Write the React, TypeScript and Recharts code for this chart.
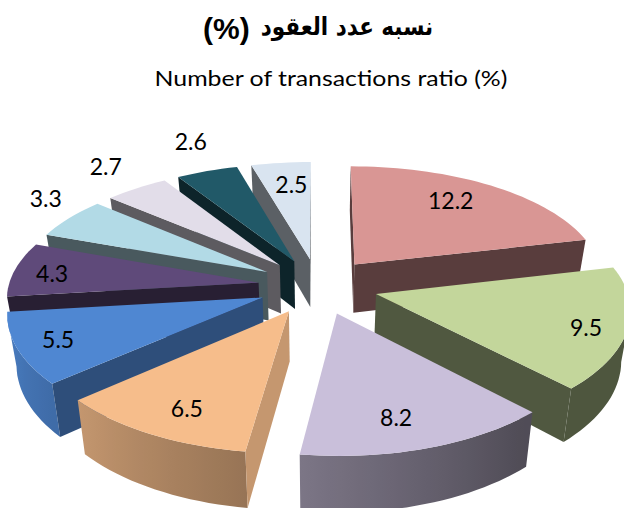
// TransactionsPie.tsx
import React from "react";
import { PieChart, Pie } from "recharts";

const categories = ["A", "B", "C", "D", "E", "F", "G", "H", "I", "J"];
const values = [12.2, 9.5, 8.2, 6.5, 5.5, 4.3, 3.3, 2.7, 2.6, 2.5];
const sliceColors = ["#d99694", "#c3d69b", "#c9bfda", "#f6bd8b", "#4f87d2", "#5f4a7a", "#b2dae6", "#e2dde9", "#215968", "#d9e4f0"];
// how dark the straight side wall of each slice is
const wallShades = [0.41, 0.41, 0.41, 0.8, 0.58, 0.42, 0.41, 0.41, 0.4, 0.42];
// how far out each label sits, as a share of the radius, then a small pixel nudge
const labelSpots = [0.68, 0.85, 0.85, 0.85, 0.88, 0.83, 1.1, 1.08, 1.08, 0.65];
const labelNudges = [[1, -9], [-3, 4], [-17, -8], [14, -6], [10, -3], [-4, 1], [-5, -15], [-20, -17], [-10, -24], [1, -10]];

const pieData = categories.map((name, i) => ({ name, value: values[i] }));
const reversedData = [...pieData].reverse();
// these two are painted first, the rest go back to front the other way round
const backSlices = ["A", "B"];

const CX = 318;
const CY = 286;
const RADIUS = 250;
const EXPLODE = 60;
const TILT = 0.465;
const PERSPECTIVE_X = 0.115;
const PERSPECTIVE_Y = 0.13;
const DEPTH = 49;
const rad = Math.PI / 180;

const project = (x: number, y: number, z: number) => {
  const sx = 1 / (1 + (PERSPECTIVE_X * y) / RADIUS);
  const sy = 1 / (1 + (PERSPECTIVE_Y * y) / RADIUS);
  const zf = 1 - 0.03 * z;
  return [CX + x * sx * zf, CY - TILT * y * sy * zf + DEPTH * Math.pow(sx, 1.5) * z];
};

const shade = (hex: string, f: number) => {
  const n = parseInt(hex.slice(1), 16);
  const c = [(n >> 16) & 255, (n >> 8) & 255, n & 255].map((v) => Math.round(v * f));
  return `rgb(${c[0]},${c[1]},${c[2]})`;
};

const arcShade = (theta: number) => Math.min(0.95, Math.max(0.4, 0.4 + (theta - 140) * 0.0045));

const toPath = (pts: number[][]) => "M" + pts.map((p) => `${p[0].toFixed(1)},${p[1].toFixed(1)}`).join("L") + "Z";

const Slice3D = (props: any) => {
  const i = categories.indexOf(props.name);
  const t1 = 90 - Math.max(props.startAngle, props.endAngle);
  const t2 = 90 - Math.min(props.startAngle, props.endAngle);
  const mid = ((t1 + t2) / 2) * rad;
  const ex = EXPLODE * Math.sin(mid);
  const ey = EXPLODE * Math.cos(mid);
  const pt = (theta: number, r: number, z: number) =>
    project(ex + r * Math.sin(theta * rad), ey + r * Math.cos(theta * rad), z);

  const steps = Math.max(8, Math.round((t2 - t1) / 2));
  const thetas: number[] = [];
  for (let k = 0; k <= steps; k++) thetas.push(t1 + ((t2 - t1) * k) / steps);

  const apex = pt(0, 0, 0);
  const apexLow = pt(0, 0, 1);
  const rim = thetas.map((t) => pt(t, RADIUS, 0));
  const rimLow = thetas.map((t) => pt(t, RADIUS, 1));
  const color = sliceColors[i];
  const wall = shade(color, wallShades[i]);

  // outer wall: only the rim points running right to left face the viewer
  const seen: number[] = [];
  rim.forEach((p, k) => {
    if (k < rim.length - 1 && rim[k + 1][0] < p[0]) {
      if (!seen.includes(k)) seen.push(k);
      seen.push(k + 1);
    }
  });
  const xs = seen.map((k) => rim[k][0]);
  const xMin = Math.min(...xs);
  const xMax = Math.max(...xs);
  const gradId = `wall-${i}`;

  const first = rim[0];
  const last = rim[rim.length - 1];

  return (
    <g>
      {seen.length > 1 && (
        <>
          <defs>
            <linearGradient id={gradId} gradientUnits="userSpaceOnUse" x1={xMin} x2={xMax} y1={0} y2={0}>
              {[...seen].reverse().map((k) => (
                <stop key={k} offset={(rim[k][0] - xMin) / (xMax - xMin)} stopColor={shade(color, arcShade(thetas[k]))} />
              ))}
            </linearGradient>
          </defs>
          <path d={toPath([...seen.map((k) => rim[k]), ...[...seen].reverse().map((k) => rimLow[k])])} fill={`url(#${gradId})`} />
        </>
      )}
      {first[0] < apex[0] && <path d={toPath([apex, first, rimLow[0], apexLow])} fill={wall} />}
      {apex[0] < last[0] && <path d={toPath([last, apex, apexLow, rimLow[rimLow.length - 1]])} fill={wall} />}
      <path d={toPath([apex, ...rim])} fill={color} />
    </g>
  );
};

const renderBack = (props: any) => (backSlices.includes(props.name) ? <Slice3D {...props} /> : <g />);
const renderFront = (props: any) => (backSlices.includes(props.name) ? <g /> : <Slice3D {...props} />);

const renderLabel = (props: any) => {
  const i = categories.indexOf(props.name);
  const mid = (90 - props.midAngle) * rad;
  const r = EXPLODE + labelSpots[i] * RADIUS;
  const p = project(r * Math.sin(mid), r * Math.cos(mid), 0);
  return (
    <text x={p[0] + labelNudges[i][0]} y={p[1] + labelNudges[i][1]} textAnchor="middle" dominantBaseline="central" fontFamily="Lato" fontSize={23} fill="#000">
      {props.value}
    </text>
  );
};

const App = () => (
  <div style={{ position: "absolute", left: 0, top: 0, width: 624, height: 508, overflow: "hidden", background: "#fff" }}>
    <div
      dir="rtl"
      style={{ position: "absolute", left: 275, width: 170, top: 9, textAlign: "center", whiteSpace: "nowrap", fontFamily: "DejaVu Sans", fontWeight: "bold", fontSize: 25, lineHeight: "36px", transform: "scaleX(0.86)" }}
    >
      نسبه عدد العقود
    </div>
    <div style={{ position: "absolute", left: 203, top: 11, fontFamily: "Liberation Sans", fontWeight: "bold", fontSize: 30, lineHeight: "36px" }}>(%)</div>
    <div style={{ position: "absolute", left: 0, width: 662, top: 63, textAlign: "center", whiteSpace: "nowrap", fontFamily: "Lato", fontSize: 22, lineHeight: "30px", transform: "scaleX(1.13)" }}>
      Number of transactions ratio (%)
    </div>
    <div style={{ position: "absolute", left: 0, top: 0 }}>
      <PieChart width={624} height={508} margin={{ top: 0, right: 0, bottom: 0, left: 0 }}>
        <Pie data={pieData} dataKey="value" nameKey="name" cx={CX} cy={CY} outerRadius={RADIUS} startAngle={90} endAngle={-270} stroke="none" shape={renderBack} isAnimationActive={false} />
        <Pie data={reversedData} dataKey="value" nameKey="name" cx={CX} cy={CY} outerRadius={RADIUS} startAngle={-270} endAngle={90} stroke="none" shape={renderFront} label={renderLabel} labelLine={false} isAnimationActive={false} />
      </PieChart>
    </div>
  </div>
);

export default App;
